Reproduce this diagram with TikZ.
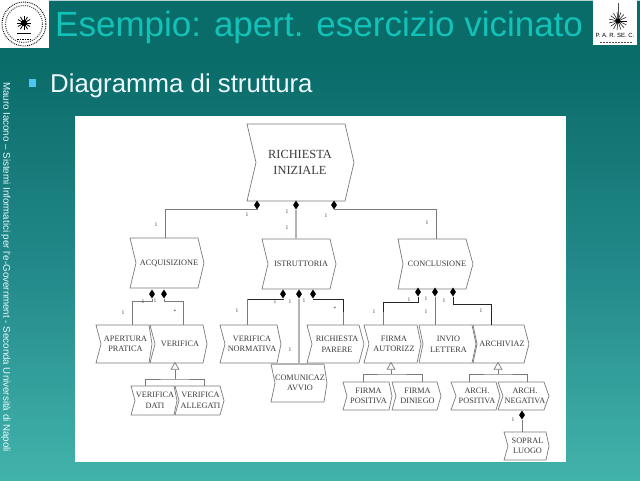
\documentclass[tikz,border=0pt]{standalone}
\usepackage{fontspec}
\setmainfont{Liberation Serif}
\newfontfamily\slidefont{Liberation Sans}
\usetikzlibrary{shapes.geometric,calc}
\definecolor{bgtop}{HTML}{0A6C69}
\definecolor{bgmid}{HTML}{23898A}
\definecolor{bgbot}{HTML}{42B3AB}
\definecolor{titlecol}{HTML}{12C2B8}
\definecolor{linegray}{HTML}{7A7A7A}
\definecolor{thickgray}{HTML}{B4B4B4}
\definecolor{textcol}{HTML}{3A3A3A}
\tikzset{
  chevtext/.style={inner sep=0pt,align=center,text=textcol,font=\fontsize{8.25}{10.6}\selectfont},
  chevline/.style={draw=linegray,line width=0.7pt,line join=miter},
  conn/.style={draw=linegray,line width=0.8pt},
  connblack/.style={draw=black!85,line width=1pt},
  connthick/.style={draw=thickgray,line width=2pt},
  dia/.style={shape=diamond,fill=black,inner sep=0pt,minimum width=6pt,minimum height=9pt},
  tri/.style={shape=regular polygon,regular polygon sides=3,draw=linegray,fill=white,line width=0.7pt,inner sep=0pt,minimum size=9pt},
  card/.style={inner sep=0pt,text=textcol,font=\fontsize{5.5}{6}\selectfont},
}
% name, left, top, right top, point, bottom, notch depth, text
\newcommand\chevnode[8]{%
  \pgfmathsetmacro\chcx{(#2+#7+#5)/2-1}\pgfmathsetmacro\chcy{(#3+#6)/2}%
  \pgfmathsetmacro\chnx{#2+#7}%
  \draw[chevline] (#2,#3) -- (#4,#3) -- (#5,\chcy) -- (#4,#6) -- (#2,#6) -- (\chnx,\chcy) -- cycle;
  \node[chevtext,minimum width=#4pt-#2pt,minimum height=#6pt-#3pt] (#1) at (\chcx,\chcy) {#8};
}
\begin{document}
\begin{tikzpicture}[x=1pt,y=-1pt]
\useasboundingbox (0,0) rectangle (640,480);
% background
\fill[bgtop] (0,0) rectangle (640,60);
\shade[top color=bgtop,bottom color=bgmid] (0,60) rectangle (640,270);
\shade[top color=bgmid,bottom color=bgbot] (0,270) rectangle (640,480);
\fill[white!70!bgtop] (0,0) rectangle (640,0.8);
% left seal
\fill[white] (0,0) rectangle (49,48);
\draw[black,line width=0.9pt,densely dotted] (24,24) circle (22);
\draw[black!70,line width=1.1pt,dash pattern=on 1pt off 1.2pt] (24,24) circle (18.5);
\foreach \a in {0,30,...,330}{\draw[black,line width=0.8pt] (24,23) -- ++(\a:7);}
\fill[black] (24,23) circle (3);
\draw[black,line width=0.7pt] (17,33) -- (31,33);
\draw[black,line width=1pt,dash pattern=on 1.5pt off 1pt] (17,39) -- (31,39);
% right logo
\fill[white] (593,0) rectangle (637,45);
\draw[black!70,line width=0.4pt] (618,3) -- (618,22);
\foreach \a in {0,24,...,336}{\draw[black,line width=0.5pt] (618,21) -- ++(\a:9);}
\fill[black] (618,21) circle (2.5);
\node[inner sep=0pt,text=black,font=\slidefont\fontsize{6}{6}\selectfont] (parsec) at (615,35) {P. A. R. SE. C.};
\draw[black!70,line width=0.6pt,dash pattern=on 1.5pt off 1.5pt] (600,42) -- (632,42);
% slide texts
\node[anchor=base west,inner sep=0pt,text=titlecol,font=\slidefont\fontsize{35}{38}\selectfont] (title) at (55,36) {Esempio: apert. esercizio vicinato};
\fill[cyan!70!white] (29,79) rectangle (36,87);
\node[anchor=base west,inner sep=0pt,text=white!93!cyan,font=\slidefont\fontsize{25.8}{30}\selectfont] (sub) at (50,92) {Diagramma di struttura};
\node[anchor=west,rotate=-90,inner sep=0pt,text=white!92!cyan,font=\slidefont\fontsize{9.75}{10}\selectfont] (side) at (6,82) {Mauro Iacono – Sistemi Informatici per l'e-Government - Seconda Università di Napoli};
% panel
\fill[white] (75,116) rectangle (566,462);
% nodes
\chevnode{root}{247}{124}{345}{354}{201}{9}{\fontsize{12.4}{14}\selectfont\hspace*{-8pt}RICHIESTA\\[5.5pt]\fontsize{12.4}{14}\selectfont\hspace*{-8pt}INIZIALE}
\chevnode{acq}{130}{238}{198}{204}{288}{6}{ACQUISIZIONE}
\chevnode{ist}{262}{239}{330}{336}{289}{6}{ISTRUTTORIA}
\chevnode{con}{398}{239}{466}{473}{289}{5}{CONCLUSIONE}
\chevnode{ape}{96}{325}{149}{152}{363}{5}{APERTURA\\PRATICA}
\chevnode{ver}{150}{325}{203}{207}{363}{5}{VERIFICA}
\chevnode{vdati}{131}{386}{174}{177}{415}{4}{VERIFICA\\DATI}
\chevnode{vall}{175}{386}{220}{224}{415}{4}{VERIFICA\\ALLEGATI}
\chevnode{vnor}{220}{325}{277}{281}{363}{5}{VERIFICA\\NORMATIVA}
\chevnode{rpar}{307}{325}{359}{364}{363}{5}{RICHIESTA\\PARERE}
\chevnode{com}{271}{364}{324}{327}{402}{4}{COMUNICAZ\\AVVIO}
\chevnode{faut}{364}{325}{417}{421}{363}{5}{FIRMA\\AUTORIZZ}
\chevnode{inv}{419}{325}{472}{476}{363}{4}{INVIO\\LETTERA}
\chevnode{arc}{473}{325}{524}{529}{363}{4}{ARCHIVIAZ}
\chevnode{fpos}{343}{382}{389}{392}{410}{4}{FIRMA\\POSITIVA}
\chevnode{fdin}{392}{382}{437}{441}{410}{4}{FIRMA\\DINIEGO}
\chevnode{apos}{451}{382}{496}{500}{410}{5}{ARCH.\\POSITIVA}
\chevnode{aneg}{498}{382}{544}{549}{410}{5}{ARCH.\\NEGATIVA}
\chevnode{sop}{504}{432}{546}{549}{460}{4}{SOPRAL\\LUOGO}
% attachment points
\coordinate (acqT) at (165,238);
\coordinate (istT) at (296,239);
\coordinate (conT) at (436,239);
\coordinate (apeT) at (132,325);
\coordinate (verT) at (183,325);
\coordinate (vnorT) at (247,325);
\coordinate (comT) at (299,364);
\coordinate (rparT) at (343,325);
\coordinate (fautT) at (383,325);
\coordinate (invT) at (435,325);
\coordinate (arcT) at (491,325);
\coordinate (vdatiT) at (145,386);
\coordinate (vallT) at (204,386);
\coordinate (fposT) at (363,382);
\coordinate (fdinT) at (422,382);
\coordinate (aposT) at (469,382);
\coordinate (anegT) at (527,382);
\coordinate (sopT) at (522,432);
% diamonds and connectors
\node[dia] (d1) at (257,205) {};
\node[dia] (d2) at (296,205) {};
\node[dia] (d3) at (334,205) {};
\node[dia] (d4) at (152,294) {};
\node[dia] (d5) at (164,294) {};
\node[dia] (d6) at (283,294) {};
\node[dia] (d7) at (299,294) {};
\node[dia] (d8) at (313,294) {};
\node[dia] (d9) at (418,292) {};
\node[dia] (d10) at (435,292) {};
\node[dia] (d11) at (453,292) {};
\node[dia] (d12) at (522,415) {};
\draw[conn] (d1.south) |- (165,209) -- (acqT);
\draw[connthick] (d2.south) -- (istT);
\draw[conn] (d3.south) |- (436,209) -- (conT);
\draw[conn] (d4.south) |- (132,301) -- (apeT);
\draw[conn] (d5.south) |- (183,301) -- (verT);
\draw[connblack] (d6.south) |- (247,299);
\draw[conn] (247,299) -- (vnorT);
\draw[connthick] (d7.south) -- (comT);
\draw[connblack] (d8.south) |- (343,299) -- (343,312);
\draw[conn] (343,312) -- (rparT);
\draw[connblack] (d9.south) |- (383,302) -- (383,312);
\draw[conn] (383,312) -- (fautT);
\draw[conn] (d10.south) -- (invT);
\draw[connblack] (d11.south) |- (491,304) -- (491,325);
\draw[conn] (d12.south) -- (sopT);
\draw[thickgray,line width=2pt] (271,364) -- (324,364);
% specialisation triangles
\node[tri] (t1) at (175,367) {};
\node[tri] (t2) at (391,367) {};
\node[tri] (t3) at (498,367) {};
\draw[conn] (t1.south) -- (175,379);
\draw[conn] (vdatiT) |- (175,379) -| (vallT);
\draw[conn] (t2.south) -- (391,374);
\draw[conn] (fposT) |- (391,374) -| (fdinT);
\draw[conn] (t3.south) -- (498,374);
\draw[conn] (aposT) |- (498,374) -| (anegT);
% cardinalities
\foreach \n/\x/\y in {c1/247/215,c2/156/225,c3/287/212,c4/287/228,c5/326/216,c6/427/223,
  c7/143/302,c8/155/301,c9/123/313,c10/237/311,c11/275/302,c12/290/302,c13/304/301,c14/290/350,
  c15/409/300,c16/426/299,c17/444/301,c18/374/312,c19/426/312,c20/481/311,c21/513/420}
  {\node[card] (\n) at (\x,\y) {1};}
\node[card] (s1) at (175,312) {*};
\node[card] (s2) at (335,309) {*};
\end{tikzpicture}
\end{document}
